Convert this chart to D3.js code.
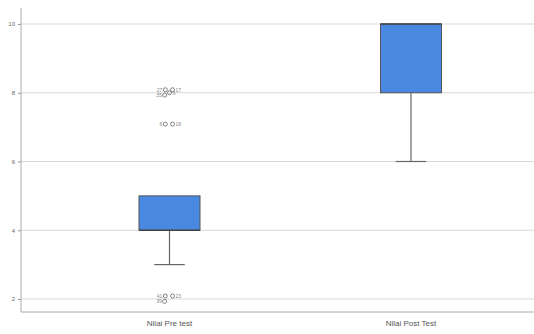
<!DOCTYPE html>
<html>
<head>
<meta charset="utf-8">
<script src="https://cdn.jsdelivr.net/npm/d3@7"></script>
<style>
  body { margin: 0; background: #fff; }
  svg { display: block; font-family: "Liberation Sans", Arial, sans-serif; }
</style>
</head>
<body>
<div id="chart"></div>
<script>
// data
const categories = ['Nilai Pre test', 'Nilai Post Test']
const lowerWhisker = [3, 6]
const q1Values = [4, 8]
const medianValues = [4, 10]
const q3Values = [5, 10]
const upperWhisker = [5, 10]
const yTicks = [2, 4, 6, 8, 10]
// outliers: [category index, value, case label]
const outliers = [
  [0, 8, '27'], [0, 8, '17'], [0, 8, '35'], [0, 8, '9'],
  [0, 7, '6'], [0, 7, '18'],
  [0, 2, '41'], [0, 2, '23'], [0, 2, '39']
]

const width = 534
const height = 334
const axisX = 21
const axisBottom = 312
const boxWidth = 61

const svg = d3.select('#chart').append('svg')
  .attr('width', width)
  .attr('height', height)

const x = d3.scalePoint().domain(categories).range([169.5, 411])
const y = d3.scaleLinear().domain([2, 10]).range([299, 24])

// gridlines
svg.append('g')
  .selectAll('line')
  .data(yTicks)
  .join('line')
  .attr('x1', axisX)
  .attr('x2', width)
  .attr('y1', d => y(d))
  .attr('y2', d => y(d))
  .attr('stroke', '#d9d9d9')
  .attr('stroke-width', 1)

// y axis
const yAxis = d3.axisLeft(y).tickValues(yTicks).tickSize(3).tickFormat(d3.format('d'))
svg.append('g')
  .attr('transform', `translate(${axisX},0)`)
  .call(yAxis)
  .call(g => g.select('.domain').remove())
  .call(g => g.selectAll('line').attr('stroke', '#999'))
  .call(g => g.selectAll('text').attr('fill', '#666').style('font-size', '6px'))

svg.append('line')
  .attr('x1', axisX).attr('x2', axisX)
  .attr('y1', 8).attr('y2', axisBottom)
  .attr('stroke', '#aaa')

svg.append('line')
  .attr('x1', axisX).attr('x2', width)
  .attr('y1', axisBottom).attr('y2', axisBottom)
  .attr('stroke', '#aaa')

// x labels
svg.append('g')
  .selectAll('text')
  .data(categories)
  .join('text')
  .attr('x', d => x(d))
  .attr('y', 326)
  .attr('text-anchor', 'middle')
  .attr('fill', '#555')
  .style('font-size', '8px')
  .text(d => d)

// boxes
const boxes = svg.append('g')
  .selectAll('g')
  .data(categories)
  .join('g')

boxes.append('line')
  .attr('x1', d => x(d)).attr('x2', d => x(d))
  .attr('y1', (d, i) => y(lowerWhisker[i]))
  .attr('y2', (d, i) => y(q1Values[i]))
  .attr('stroke', '#666').attr('stroke-width', 1.2)

boxes.append('line')
  .attr('x1', d => x(d) - boxWidth / 4).attr('x2', d => x(d) + boxWidth / 4)
  .attr('y1', (d, i) => y(lowerWhisker[i]))
  .attr('y2', (d, i) => y(lowerWhisker[i]))
  .attr('stroke', '#666').attr('stroke-width', 1.2)

boxes.append('line')
  .attr('x1', d => x(d)).attr('x2', d => x(d))
  .attr('y1', (d, i) => y(upperWhisker[i]))
  .attr('y2', (d, i) => y(q3Values[i]))
  .attr('stroke', '#666').attr('stroke-width', 1.2)

boxes.append('rect')
  .attr('x', d => x(d) - boxWidth / 2)
  .attr('width', boxWidth)
  .attr('y', (d, i) => y(q3Values[i]))
  .attr('height', (d, i) => y(q1Values[i]) - y(q3Values[i]))
  .attr('fill', '#4a89e2')
  .attr('stroke', '#555')
  .attr('stroke-width', 1)

boxes.append('line')
  .attr('x1', d => x(d) - boxWidth / 2).attr('x2', d => x(d) + boxWidth / 2)
  .attr('y1', (d, i) => y(medianValues[i]))
  .attr('y2', (d, i) => y(medianValues[i]))
  .attr('stroke', '#444').attr('stroke-width', 1.5)

// outliers with case labels, spread a bit so labels do not overlap
const offsets = [[-7, -5], [5, -5], [-8, 4], [0, 0]]
const seen = {}
const pts = outliers.map(([ci, v, label]) => {
  const key = ci + '-' + v
  const k = seen[key] = (seen[key] || 0) + 1
  const off = offsets[(k - 1) % offsets.length]
  return { cx: x(categories[ci]) + off[0] * 0.6, cy: y(v) + off[1] * 0.6, label, lx: off[0], ly: off[1] }
})

const out = svg.append('g')
out.selectAll('circle')
  .data(pts)
  .join('circle')
  .attr('cx', d => d.cx)
  .attr('cy', d => d.cy)
  .attr('r', 2)
  .attr('fill', 'none')
  .attr('stroke', '#666')
  .attr('stroke-width', 0.8)

out.selectAll('text')
  .data(pts)
  .join('text')
  .attr('x', d => d.cx + (d.lx < 0 ? -3 : 3))
  .attr('y', d => d.cy + 2)
  .attr('text-anchor', d => d.lx < 0 ? 'end' : 'start')
  .attr('fill', '#888')
  .style('font-size', '5px')
  .text(d => d.label)
</script>
</body>
</html>
